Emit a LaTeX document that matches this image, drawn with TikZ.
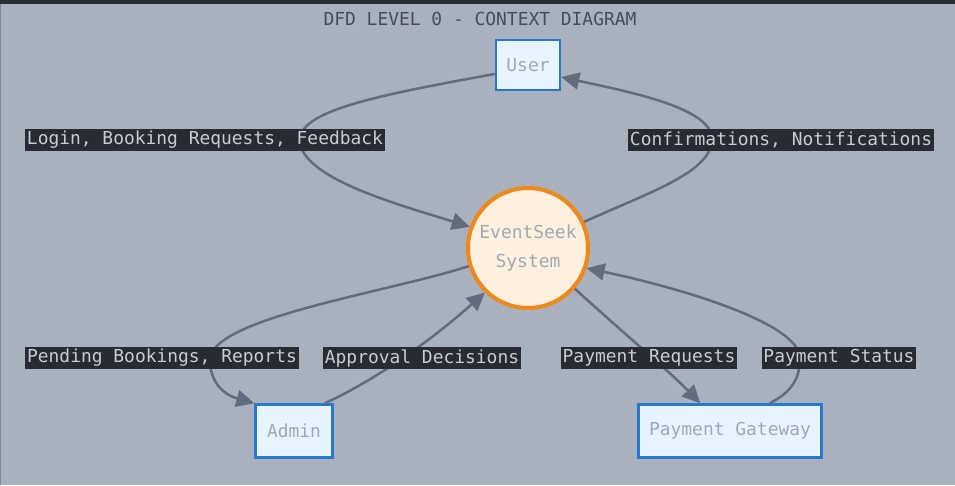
\documentclass[tikz,border=0pt]{standalone}
\usepackage{fontspec}
\setmonofont{DejaVu Sans Mono}
\usetikzlibrary{arrows.meta,positioning}

\definecolor{bgcol}{RGB}{170,177,190}
\definecolor{barcol}{RGB}{40,44,52}
\definecolor{titlecol}{RGB}{70,76,88}
\definecolor{flowcol}{RGB}{99,107,126}
\definecolor{lblbg}{RGB}{40,43,50}
\definecolor{lbltext}{RGB}{200,205,212}
\definecolor{entborder}{RGB}{40,120,210}
\definecolor{entfill}{RGB}{232,244,253}
\definecolor{enttext}{RGB}{160,168,180}
\definecolor{procborder}{RGB}{240,135,25}
\definecolor{procfill}{RGB}{253,240,222}

\begin{document}
\begin{tikzpicture}[x=0.02cm, y=-0.02cm]
 \tikzset{
entity/.style = {rectangle, draw=entborder, fill=entfill, line width=0.05cm, text=enttext,
  font=\ttfamily\fontsize{10.2}{12}\selectfont, minimum height=1.06cm},
process/.style = {circle, draw=procborder, fill=procfill, line width=0.08cm, text=enttext,
  font=\ttfamily\fontsize{10.2}{16}\selectfont, align=center, minimum size=2.4cm, inner sep=0pt},
flow/.style = {draw=flowcol, line width=0.05cm, -{Triangle[length=0.36cm,width=0.34cm]}},
flowlabel/.style = {fill=lblbg, text=lbltext, font=\ttfamily\fontsize{10.2}{12}\selectfont,
  inner xsep=1pt, inner ysep=0pt, minimum height=0.44cm}}

  % background and frame
  \fill [bgcol] (0,0) rectangle (955,485);
  \useasboundingbox (0,0) rectangle (955,485);
  \fill [barcol] (0,0) rectangle (955,4);
  \draw [flowcol!80, line width=0.02cm] (0.5,4) -- (0.5,485);

  \node [text=titlecol, font=\ttfamily\fontsize{10.2}{12}\selectfont] (title) at (480,19) {DFD LEVEL 0 - CONTEXT DIAGRAM};

  % entities and process
  \node [entity, minimum width=1.28cm, minimum height=1.0cm] (user) at (528,65) {User};
  \node [process] (sys) at (528,248) {EventSeek\\System};
  \node [entity, minimum width=1.54cm] (admin) at (294,431) {Admin};
  \node [entity, minimum width=3.66cm] (pg) at (730,431) {Payment Gateway};

  % data flows
  \draw [flow] (user.195) .. controls (380,95) and (300,110) .. (300,140)
                          .. controls (300,178) and (400,205) .. (sys.160);
  \draw [flow] (sys.25) .. controls (650,192) and (712,172) .. (712,139)
                        .. controls (712,108) and (630,92) .. (user.-20);
  \draw [flow] (sys.197) .. controls (390,292) and (210,318) .. (210,360)
                         .. controls (210,386) and (228,396) .. (admin.north west);
  \draw [flow] (admin.42) .. controls (365,385) and (420,350) .. (sys.226);
  \draw [flow] (sys.-41) .. controls (620,330) and (670,372) .. (pg.137);
  \draw [flow] (pg.35) .. controls (792,392) and (800,378) .. (800,358)
                       .. controls (800,325) and (690,290) .. (sys.-19);

  % flow labels
  \node [flowlabel] (l1) at (205,140) {Login, Booking Requests, Feedback};
  \node [flowlabel] (l2) at (781,140) {Confirmations, Notifications};
  \node [flowlabel] (l3) at (162,358) {Pending Bookings, Reports};
  \node [flowlabel] (l4) at (422,358) {Approval Decisions};
  \node [flowlabel] (l5) at (649,358) {Payment Requests};
  \node [flowlabel] (l6) at (839,358) {Payment Status};
\end{tikzpicture}
\end{document}
